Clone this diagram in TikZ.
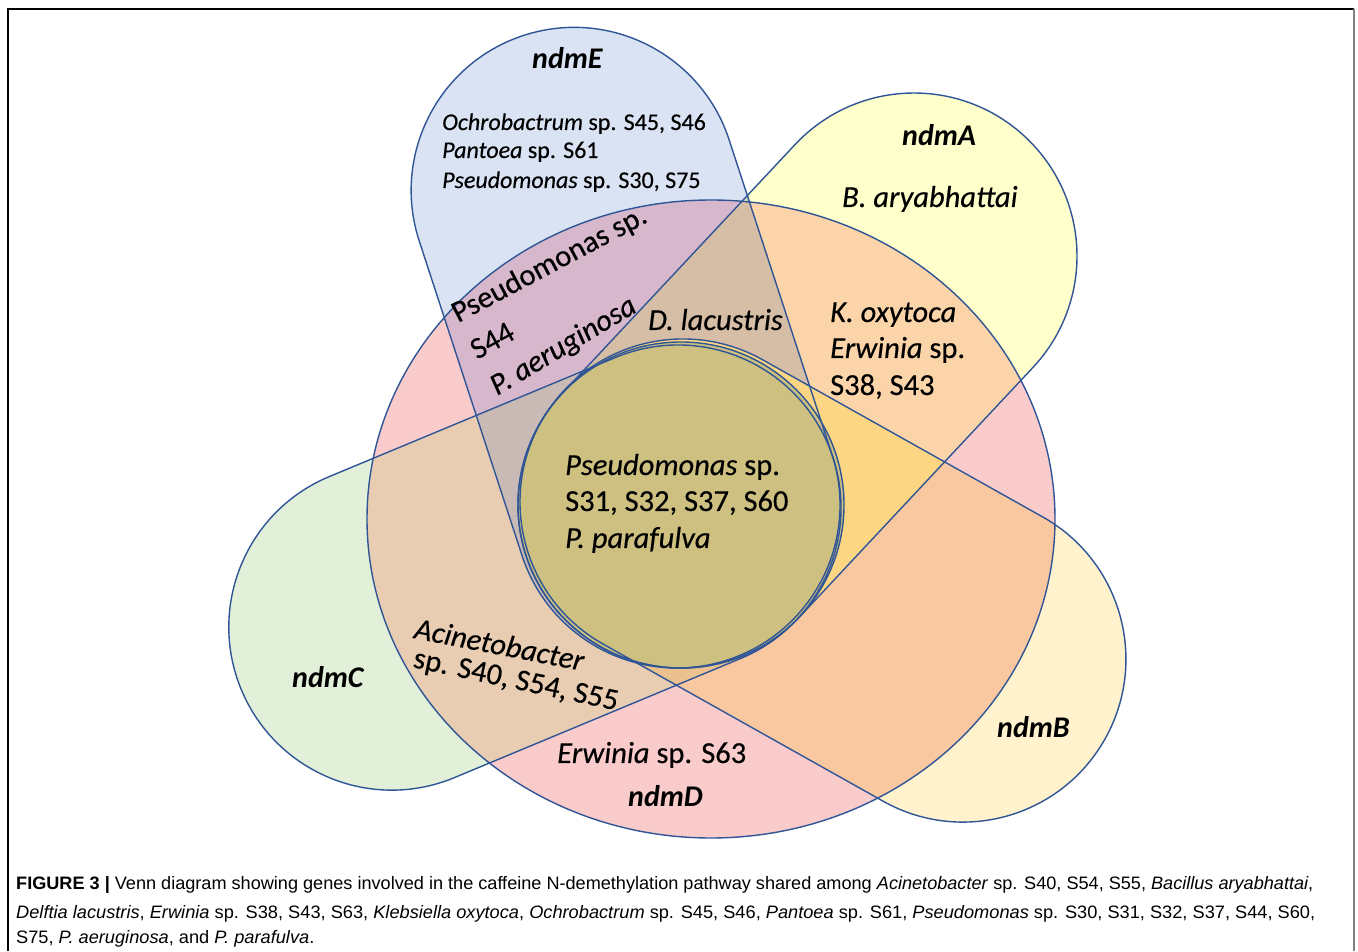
\documentclass[tikz,border=0pt]{standalone}
\usepackage{fontspec}
\usepackage{graphicx}
\newfontfamily\lblfont[FakeBold=0.35]{Carlito}
\newfontfamily\genefont{Carlito}
\newfontfamily\capfont{Liberation Sans}
\definecolor{cD}{HTML}{F9CBCB}
\definecolor{cE}{HTML}{DAE3F3}
\definecolor{cA}{HTML}{FFFFCC}
\definecolor{cB}{HTML}{FFF2CC}
\definecolor{cC}{HTML}{E2F0D9}
\definecolor{cEA}{HTML}{DAE3C3}
\definecolor{cED}{HTML}{D7B7CB}
\definecolor{cAD}{HTML}{FBD4A9}
\definecolor{cBD}{HTML}{FAC8A0}
\definecolor{cCD}{HTML}{E8CDB2}
\definecolor{cEAD}{HTML}{D6BEA6}
\definecolor{cECD}{HTML}{C9BAB5}
\definecolor{cEBD}{HTML}{DDB98A}
\definecolor{cABD}{HTML}{FCD683}
\definecolor{cCBD}{HTML}{EBC190}
\definecolor{cO}{HTML}{CDC080}
\definecolor{edgeblue}{HTML}{2F5597}
\newcommand\vennStad[4]{\path[#1,shift={#2},rotate=#3] (0,-163) -- (#4,-163) arc[start angle=-90,end angle=90,radius=163] -- (0,163) arc[start angle=90,end angle=270,radius=163] -- cycle;}
\newcommand\vennE[1]{\vennStad{#1}{(677,446)}{108.1}{331}}
\newcommand\vennA[1]{\vennStad{#1}{(681,446)}{46.9}{341}}
\newcommand\vennC[1]{\vennStad{#1}{(678,443)}{202.6}{310}}
\newcommand\vennB[1]{\vennStad{#1}{(683,449)}{-29.3}{321}}
\newcommand\vennD[1]{\path[#1] (711,432) ellipse[x radius=344, y radius=319];}
\newcommand\vennO[1]{\path[#1] (681,446) circle[radius=163];}
\newlength\capwidth
\newcommand\capsize{\capfont\fontsize{18}{22}\selectfont}
\newcommand\captwo{\textit{Delftia lacustris}, \textit{Erwinia} sp. S38, S43, S63, \textit{Klebsiella oxytoca}, \textit{Ochrobactrum} sp. S45, S46, \textit{Pantoea} sp. S61, \textit{Pseudomonas} sp. S30, S31, S32, S37, S44, S60,}
\begin{document}
\settowidth\capwidth{\capsize\captwo}%
\pgfmathsetmacro\capsx{1299/\capwidth}%
\begin{tikzpicture}[x=1pt,y=1pt,
  lbl/.style={inner sep=0pt, anchor=base west, font=\lblfont\fontsize{30.5}{36}\selectfont},
  lblsm/.style={inner sep=0pt, anchor=base west, font=\lblfont\fontsize{24}{29}\selectfont},
  gene/.style={inner sep=0pt, anchor=base west, font=\genefont\fontsize{30}{36}\selectfont\bfseries\itshape},
  outl/.style={draw=edgeblue, line width=1.4pt},
  captext/.style={inner sep=0pt, anchor=base west, font=\capsize},
  frameline/.style={line width=1.2pt, draw=black}]
\useasboundingbox (0,0) rectangle (1358,951);
\fill[white] (0,0) rectangle (1358,951);
% frame
\draw[frameline] (8,0) -- (8,942) -- (1354,942);
\draw[line width=1.6pt, draw=gray] (1354,942) -- (1354,0);
% base fills
\vennD{fill=cD}
\vennE{fill=cE}
\vennA{fill=cA}
\vennB{fill=cB}
\vennC{fill=cC}
\begin{scope}
  \vennE{clip}
  \vennA{fill=cEA}
\end{scope}
\begin{scope}
  \vennD{clip}
  \vennE{fill=cED}
  \vennA{fill=cAD}
  \vennB{fill=cBD}
  \vennC{fill=cCD}
\end{scope}
\begin{scope}
  \vennD{clip}
  \vennE{clip}
  \vennA{fill=cEAD}
  \vennC{fill=cECD}
  \vennB{fill=cEBD}
\end{scope}
\begin{scope}
  \vennD{clip}
  \vennA{clip}
  \vennB{fill=cABD}
\end{scope}
\begin{scope}
  \vennD{clip}
  \vennC{clip}
  \vennB{fill=cCBD}
\end{scope}
\vennO{fill=cO}
% outlines
\vennD{outl}
\vennE{outl}
\vennA{outl}
\vennB{outl}
\vennC{outl}
\vennO{outl}
% labels
\node[gene] (lE) at (532,882) {ndmE};
\node[lblsm] (e1) at (442,821) {\itshape Ochrobactrum\upshape\ sp. S45, S46};
\node[lblsm] (e2) at (442,793) {\itshape Pantoea\upshape\ sp. S61};
\node[lblsm] (e3) at (442,763) {\itshape Pseudomonas\upshape\ sp. S30, S75};
\node[gene] (lA) at (902,805) {ndmA};
\node[lbl] (a1) at (842,744) {\itshape B. aryabhattai};
\node[lbl] (ad1) at (830,629) {\itshape K. oxytoca};
\node[lbl] (ad2) at (830,593) {\itshape Erwinia\upshape\ sp.};
\node[lbl] (ad3) at (830,556) {S38, S43};
\node[lbl] (ead) at (648,621) {\itshape D. lacustris};
\node[lbl] (o1) at (565,476) {\itshape Pseudomonas\upshape\ sp.};
\node[lbl] (o2) at (565,440) {S31, S32, S37, S60};
\node[lbl] (o3) at (565,403) {\itshape P. parafulva};
\node[lbl, rotate=28] (ed1) at (458,628) {Pseudomonas sp.};
\node[lbl, rotate=29] (ed2) at (477,591) {S44};
\node[lbl, rotate=31] (ed3) at (497,555) {\itshape P. aeruginosa};
\node[lbl, rotate=-11] (cd1) at (413,313) {\itshape Acinetobacter};
\node[lbl, rotate=-12] (cd2) at (412,284) {sp. S40, S54, S55};
\node[lbl] (d1) at (557,188) {\itshape Erwinia\upshape\ sp. S63};
\node[gene] (lD) at (628,144) {ndmD};
\node[gene] (lC) at (292,263) {ndmC};
\node[gene] (lB) at (997,213) {ndmB};
% caption
\node[captext] (cap1) at (16,61) {\resizebox{1297pt}{\height}{\textbf{FIGURE 3 |} Venn diagram showing genes involved in the caffeine N-demethylation pathway shared among \textit{Acinetobacter} sp. S40, S54, S55, \textit{Bacillus aryabhattai},}};
\node[captext] (cap2) at (16,33) {\scalebox{\capsx}[1]{\captwo}};
\node[captext] (cap3) at (16,8) {\scalebox{\capsx}[1]{S75, \textit{P. aeruginosa}, and \textit{P. parafulva}.}};
\end{tikzpicture}
\end{document}
